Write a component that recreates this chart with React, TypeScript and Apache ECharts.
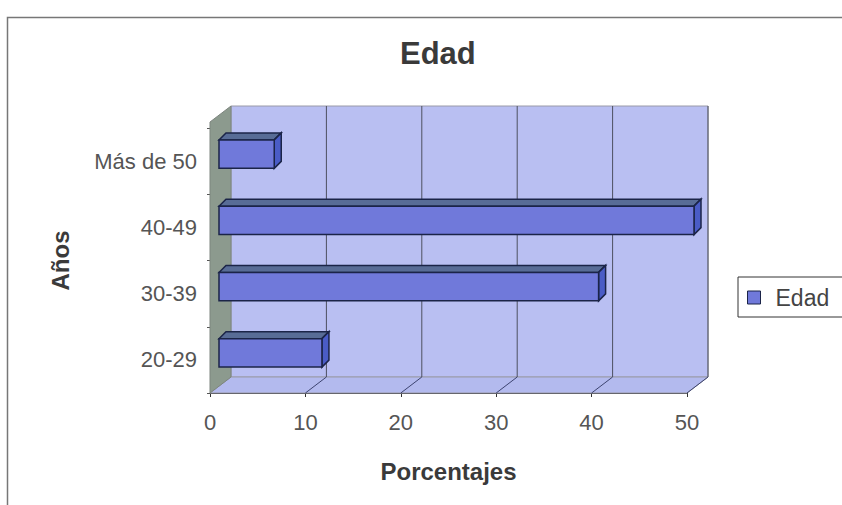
import React, { useEffect, useRef } from "react";
import * as echarts from "echarts";

const categories = ["20-29", "30-39", "40-49", "Más de 50"];
const values = [11, 40, 50, 6];
const xTicks = [0, 10, 20, 30, 40, 50];
const seriesName = "Edad";

const FONT = "'Liberation Sans', Arial, sans-serif";

export default function App() {
  const ref = useRef<HTMLDivElement>(null);
  useEffect(() => {
    if (!ref.current) return;
    const chart = echarts.init(ref.current, undefined, { renderer: "svg" });
    const WDX = 21;
    const WDY = -16;
    const EXT = 6;
    const option: any = {
      animation: false,
      backgroundColor: "#ffffff",
      title: {
        text: "Edad",
        left: 395,
        top: 33,
        textStyle: { fontFamily: FONT, fontSize: 31, fontWeight: "bold", color: "#3a3a3a" },
      },
      legend: {
        data: [seriesName],
        left: 738,
        top: 277,
        orient: "vertical",
        icon: "rect",
        itemWidth: 13,
        itemHeight: 13,
        itemGap: 4,
        padding: [9, 30, 8, 9],
        borderColor: "#333",
        borderWidth: 1,
        borderRadius: 0,
        itemStyle: { borderColor: "#1b2448", borderWidth: 1 },
        textStyle: { fontFamily: FONT, fontSize: 23, color: "#444", padding: [0, 0, 0, 10] },
      },
      grid: { left: 210, top: 128, width: 477, height: 265, containLabel: false },
      xAxis: {
        type: "value",
        min: 0,
        max: 50,
        interval: 10,
        name: "Porcentajes",
        nameLocation: "middle",
        nameGap: 66,
        nameTextStyle: { fontFamily: FONT, fontSize: 24, fontWeight: "bold", color: "#3a3a3a" },
        axisLine: { show: true, lineStyle: { color: "#333", width: 1 } },
        axisTick: { show: true, length: 4, lineStyle: { color: "#333" } },
        axisLabel: {
          margin: 18,
          fontFamily: FONT,
          fontSize: 22,
          color: "#555",
          formatter: (v: number) => (xTicks.includes(v) ? String(v) : ""),
        },
        splitLine: { show: false },
      },
      yAxis: {
        type: "category",
        data: categories,
        name: "Años",
        nameLocation: "middle",
        nameRotate: 90,
        nameGap: 138,
        nameTextStyle: { fontFamily: FONT, fontSize: 24, fontWeight: "bold", color: "#3a3a3a" },
        axisLine: { show: true, lineStyle: { color: "#555", width: 1 } },
        axisTick: { show: true, length: 3, inside: false, lineStyle: { color: "#555" } },
        axisLabel: { margin: 13, fontFamily: FONT, fontSize: 22, color: "#555" },
      },
      series: [
        {
          type: "custom",
          name: "walls",
          z: 1,
          silent: true,
          data: [[0, 0]],
          renderItem: (params: any, api: any) => {
            const cs = params.coordSys;
            const x0 = cs.x;
            const y0 = cs.y - EXT;
            const w = cs.width;
            const yb = cs.y + cs.height;
            const children: any[] = [];
            children.push({
              type: "polygon",
              shape: {
                points: [
                  [x0 + WDX, y0 + WDY],
                  [x0 + w + WDX, y0 + WDY],
                  [x0 + w + WDX, yb + WDY],
                  [x0 + WDX, yb + WDY],
                ],
              },
              style: { fill: "#b9bff2", stroke: "#9a9aa8", lineWidth: 1 },
            });
            children.push({
              type: "polygon",
              shape: {
                points: [
                  [x0, yb],
                  [x0 + w, yb],
                  [x0 + w + WDX, yb + WDY],
                  [x0 + WDX, yb + WDY],
                ],
              },
              style: { fill: "#b3baee", stroke: "#9a9aa8", lineWidth: 1 },
            });
            children.push({
              type: "polygon",
              shape: {
                points: [
                  [x0, y0],
                  [x0 + WDX, y0 + WDY],
                  [x0 + WDX, yb + WDY],
                  [x0, yb],
                ],
              },
              style: { fill: "#8c9a8e", stroke: "#7d857f", lineWidth: 1 },
            });
            xTicks.forEach((t) => {
              if (t === 0) return;
              const x = api.coord([t, 0])[0];
              children.push({
                type: "line",
                shape: { x1: x + WDX, y1: y0 + WDY, x2: x + WDX, y2: yb + WDY },
                style: { stroke: "#4d5060", lineWidth: 1 },
              });
              children.push({
                type: "line",
                shape: { x1: x + WDX, y1: yb + WDY, x2: x, y2: yb },
                style: { stroke: "#3d4470", lineWidth: 1 },
              });
            });
            return { type: "group", children };
          },
        },
        {
          type: "custom",
          name: seriesName,
          z: 3,
          itemStyle: { color: "#7079da" },
          encode: { x: 0, y: 1 },
          data: values.map((v, i) => [v, i]),
          renderItem: (params: any, api: any) => {
            const val = api.value(0);
            const cat = api.value(1);
            const p0 = api.coord([0, cat]);
            const p1 = api.coord([val, cat]);
            const band = api.size([0, 1])[1];
            const th = band * 0.43;
            const ox = 9;
            const oy = -7;
            const d = 7;
            const left = p0[0] + ox;
            const right = p1[0] + ox - 2;
            const top = p0[1] + oy - th / 2;
            const bottom = top + th;
            const stroke = "#1b2448";
            return {
              type: "group",
              children: [
                {
                  type: "polygon",
                  shape: { points: [[left, top], [right, top], [right + d, top - d], [left + d, top - d]] },
                  style: { fill: "#586c96", stroke, lineWidth: 1.5 },
                },
                {
                  type: "polygon",
                  shape: { points: [[right, top], [right + d, top - d], [right + d, bottom - d], [right, bottom]] },
                  style: { fill: "#4a5cc6", stroke, lineWidth: 1.5 },
                },
                {
                  type: "rect",
                  shape: { x: left, y: top, width: right - left, height: th },
                  style: { fill: "#7079da", stroke, lineWidth: 1.5 },
                },
              ],
            };
          },
        },
      ],
      graphic: [
        {
          type: "rect",
          left: 5,
          top: 15,
          shape: { x: 0, y: 0, width: 900, height: 600 },
          style: { fill: "none", stroke: "#777", lineWidth: 1.5 },
          z: 0,
          silent: true,
        },
      ],
    };
    chart.setOption(option);
    return () => chart.dispose();
  }, []);
  return (
    <div
      ref={ref}
      style={{ position: "fixed", left: 0, top: 0, width: 842, height: 505 }}
    />
  );
}
